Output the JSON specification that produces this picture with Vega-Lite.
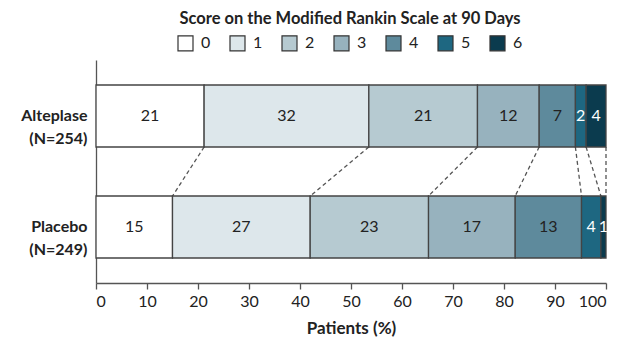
{
  "$schema": "https://vega.github.io/schema/vega-lite/v6.json",
  "width": 510,
  "height": 223,
  "autosize": {"type": "none"},
  "padding": {"left": 96, "top": 60, "right": 34, "bottom": 71},
  "config": {
    "view": {"stroke": null},
    "font": "Lato",
    "axis": {"labelFont": "Lato", "titleFont": "Lato"},
    "legend": {"labelFont": "Lato", "titleFont": "Lato"}
  },
  "data": {
    "values": [
      {"group": "Alteplase", "score": 0, "pct": 21.2, "label": "21"},
      {"group": "Alteplase", "score": 1, "pct": 32.3, "label": "32"},
      {"group": "Alteplase", "score": 2, "pct": 21.3, "label": "21"},
      {"group": "Alteplase", "score": 3, "pct": 12.1, "label": "12"},
      {"group": "Alteplase", "score": 4, "pct": 7.1, "label": "7"},
      {"group": "Alteplase", "score": 5, "pct": 2.1, "label": "2"},
      {"group": "Alteplase", "score": 6, "pct": 3.9, "label": "4"},
      {"group": "Placebo", "score": 0, "pct": 15.0, "label": "15"},
      {"group": "Placebo", "score": 1, "pct": 27.0, "label": "27"},
      {"group": "Placebo", "score": 2, "pct": 23.2, "label": "23"},
      {"group": "Placebo", "score": 3, "pct": 17.0, "label": "17"},
      {"group": "Placebo", "score": 4, "pct": 13.0, "label": "13"},
      {"group": "Placebo", "score": 5, "pct": 3.8, "label": "4"},
      {"group": "Placebo", "score": 6, "pct": 1.0, "label": "1"}
    ]
  },
  "layer": [
    {
      "transform": [
        {"stack": "pct", "groupby": ["group"], "sort": [{"field": "score", "order": "ascending"}], "as": ["x0", "x1"]},
        {"pivot": "group", "value": "x1", "groupby": ["score"]}
      ],
      "mark": {"type": "rule", "strokeDash": [4, 3], "color": "#555", "strokeWidth": 1.3, "yOffset": 31, "y2Offset": -31},
      "encoding": {
        "x": {"field": "Alteplase", "type": "quantitative", "title": "Patients (%)"},
        "x2": {"field": "Placebo"},
        "y": {"datum": "Alteplase", "type": "nominal"},
        "y2": {"datum": "Placebo"}
      }
    },
    {
      "transform": [
        {"stack": "pct", "groupby": ["group"], "sort": [{"field": "score", "order": "ascending"}], "as": ["x0", "x1"]}
      ],
      "mark": {"type": "bar", "stroke": "#444", "strokeWidth": 1.3},
      "encoding": {
        "x": {
          "field": "x0", "type": "quantitative", "title": "Patients (%)",
          "scale": {"domain": [0, 100], "nice": false},
          "axis": {
            "values": [0, 10, 20, 30, 40, 50, 60, 70, 80, 90, 100],
            "grid": false, "domainColor": "#555", "domainWidth": 1.3,
            "tickColor": "#555", "tickWidth": 1.3, "tickSize": 6,
            "labelFontSize": 16, "labelColor": "#222", "labelPadding": 4,
            "titleFontSize": 17, "titleFontWeight": "bold", "titleColor": "#222", "titlePadding": 11
          }
        },
        "x2": {"field": "x1"},
        "y": {
          "field": "group", "type": "nominal", "title": null,
          "sort": ["Alteplase", "Placebo"],
          "scale": {"domain": ["Alteplase", "Placebo"], "paddingInner": 0.4414, "paddingOuter": 0.225},
          "axis": {
            "ticks": false, "domainColor": "#555", "domainWidth": 1.3,
            "labelFontSize": 16, "labelFontWeight": "bold", "labelColor": "#222",
            "labelPadding": 9, "labelLineHeight": 23,
            "labelExpr": "datum.value == 'Alteplase' ? ['Alteplase', '(N=254)'] : ['Placebo', '(N=249)']"
          }
        },
        "fill": {
          "field": "score", "type": "nominal",
          "scale": {"domain": [0, 1, 2, 3, 4, 5, 6], "range": ["#ffffff", "#dde7eb", "#b6cad1", "#97b2be", "#5e8a9c", "#1e6781", "#0b3b4e"]},
          "legend": {
            "title": "Score on the Modified Rankin Scale at 90 Days",
            "orient": "none", "legendX": 81, "legendY": -49,
            "direction": "horizontal",
            "titleOrient": "top", "titleAnchor": "middle", "titleLimit": 600,
            "titleFontSize": 16.5, "titleFontWeight": "bold", "titleColor": "#222", "titlePadding": 7,
            "symbolType": "square", "symbolSize": 225, "symbolStrokeColor": "#333", "symbolStrokeWidth": 1.2,
            "labelFontSize": 16, "labelColor": "#222", "labelOffset": 7,
            "columnPadding": 16
          }
        }
      }
    },
    {
      "transform": [
        {"stack": "pct", "groupby": ["group"], "sort": [{"field": "score", "order": "ascending"}], "as": ["x0", "x1"]},
        {"calculate": "(datum.x0 + datum.x1) / 2", "as": "mid"}
      ],
      "mark": {"type": "text", "fontSize": 16, "align": "center", "baseline": "middle"},
      "encoding": {
        "x": {"field": "mid", "type": "quantitative", "title": "Patients (%)"},
        "y": {"field": "group", "type": "nominal", "sort": ["Alteplase", "Placebo"]},
        "text": {"field": "label", "type": "nominal"},
        "color": {"condition": {"test": "datum.score >= 5", "value": "#ffffff"}, "value": "#222222"},
        "fontWeight": {"condition": {"test": "datum.score >= 5", "value": "bold"}, "value": "normal"}
      }
    }
  ]
}
